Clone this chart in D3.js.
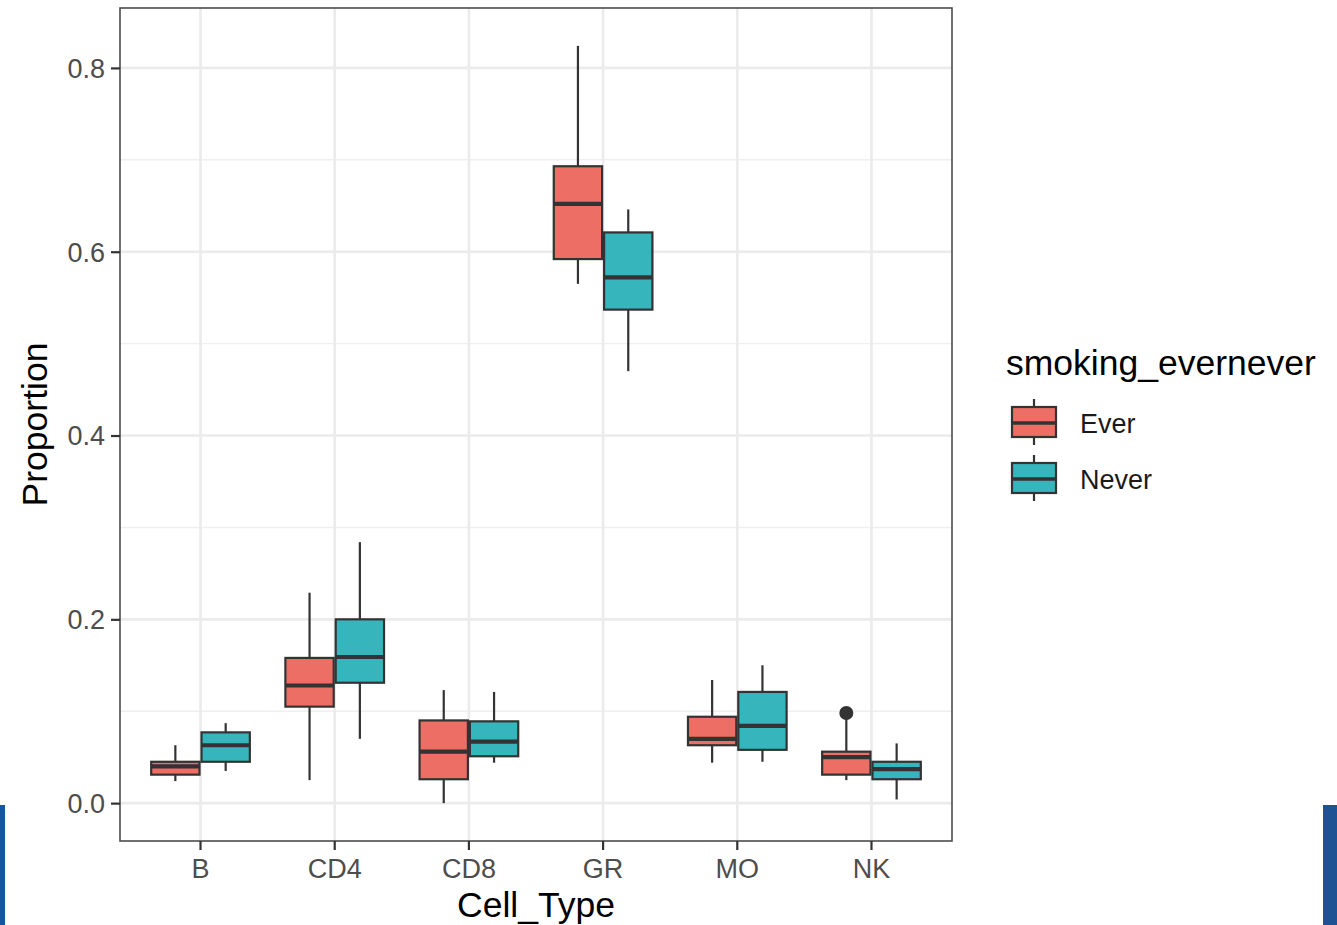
<!DOCTYPE html>
<html>
<head>
<meta charset="utf-8">
<script src="https://cdn.jsdelivr.net/npm/d3@7"></script>
<style>
  html, body { margin: 0; padding: 0; background: #fff; }
  svg { display: block; }
  text { font-family: "Liberation Sans", Arial, Helvetica, sans-serif; }
</style>
</head>
<body>
<svg id="chart" width="1337" height="925"></svg>
<script>
// Cell types on the x axis and the two smoking groups
const cellTypes = ["B", "CD4", "CD8", "GR", "MO", "NK"];
const groups = ["Ever", "Never"];

// Box-plot statistics per group, one value per cell type
const everLower  = [0.024, 0.025, 0.000, 0.565, 0.044, 0.025];
const everQ1     = [0.031, 0.105, 0.026, 0.592, 0.063, 0.031];
const everMedian = [0.040, 0.128, 0.056, 0.652, 0.070, 0.050];
const everQ3     = [0.045, 0.158, 0.090, 0.693, 0.094, 0.056];
const everUpper  = [0.063, 0.229, 0.123, 0.824, 0.134, 0.092];

const neverLower  = [0.035, 0.070, 0.044, 0.470, 0.045, 0.004];
const neverQ1     = [0.045, 0.131, 0.051, 0.537, 0.058, 0.026];
const neverMedian = [0.063, 0.159, 0.067, 0.572, 0.084, 0.037];
const neverQ3     = [0.077, 0.200, 0.089, 0.621, 0.121, 0.045];
const neverUpper  = [0.087, 0.284, 0.121, 0.646, 0.150, 0.065];

// Outlying points: cell type, group, value
const outlierCells  = ["NK"];
const outlierGroups = ["Ever"];
const outlierValues = [0.098];

// Y axis ticks
const yTicks = [0.0, 0.2, 0.4, 0.6, 0.8];
const yMinorTicks = [0.1, 0.3, 0.5, 0.7];

const fillColors = { Ever: "#EC6E64", Never: "#36B5BC" };

const stats = { Ever: [everLower, everQ1, everMedian, everQ3, everUpper],
                Never: [neverLower, neverQ1, neverMedian, neverQ3, neverUpper] };

const boxes = [];
groups.forEach(g => {
  cellTypes.forEach((c, i) => {
    const s = stats[g];
    boxes.push({ cell: c, group: g, lower: s[0][i], q1: s[1][i], median: s[2][i], q3: s[3][i], upper: s[4][i] });
  });
});
const outliers = outlierCells.map((c, i) => ({ cell: c, group: outlierGroups[i], value: outlierValues[i] }));

// Panel geometry
const panel = { left: 120, top: 8, right: 952, bottom: 841 };
const svg = d3.select("#chart");

// y domain padded by 5% of the data range, as ggplot does
const allVals = boxes.flatMap(b => [b.lower, b.upper]).concat(outlierValues);
const [vMin, vMax] = d3.extent(allVals);
const pad = (vMax - vMin) * 0.05;
const y = d3.scaleLinear().domain([vMin - pad, vMax + pad]).range([panel.bottom, panel.top]);

const x = d3.scaleBand().domain(cellTypes).range([panel.left, panel.right])
  .paddingInner(0).paddingOuter(0.1);
const dodgeWidth = x.bandwidth() * 0.75;
const xSub = d3.scaleBand().domain(groups).range([-dodgeWidth / 2, dodgeWidth / 2]);
const cx = (cell) => x(cell) + x.bandwidth() / 2;

// Background grid
const grid = svg.append("g");
grid.selectAll("line.minor").data(yMinorTicks).join("line")
  .attr("x1", panel.left).attr("x2", panel.right)
  .attr("y1", d => y(d)).attr("y2", d => y(d))
  .attr("stroke", "#EFEFEF").attr("stroke-width", 1.4);
grid.selectAll("line.majory").data(yTicks).join("line")
  .attr("x1", panel.left).attr("x2", panel.right)
  .attr("y1", d => y(d)).attr("y2", d => y(d))
  .attr("stroke", "#EBEBEB").attr("stroke-width", 2.6);
grid.selectAll("line.majorx").data(cellTypes).join("line")
  .attr("x1", d => cx(d)).attr("x2", d => cx(d))
  .attr("y1", panel.top).attr("y2", panel.bottom)
  .attr("stroke", "#EBEBEB").attr("stroke-width", 2.6);

// Boxes
const outline = "#333333";
const bg = svg.append("g");
const box = bg.selectAll("g.box").data(boxes).join("g")
  .attr("transform", d => `translate(${cx(d.cell) + xSub(d.group)},0)`);
const bw = xSub.bandwidth();
box.append("line")
  .attr("x1", bw / 2).attr("x2", bw / 2)
  .attr("y1", d => y(d.upper)).attr("y2", d => y(d.q3))
  .attr("stroke", outline).attr("stroke-width", 2.2);
box.append("line")
  .attr("x1", bw / 2).attr("x2", bw / 2)
  .attr("y1", d => y(d.q1)).attr("y2", d => y(d.lower))
  .attr("stroke", outline).attr("stroke-width", 2.2);
box.append("rect")
  .attr("x", 1).attr("width", bw - 2)
  .attr("y", d => y(d.q3)).attr("height", d => y(d.q1) - y(d.q3))
  .attr("fill", d => fillColors[d.group])
  .attr("stroke", outline).attr("stroke-width", 2.2);
box.append("line")
  .attr("x1", 1).attr("x2", bw - 1)
  .attr("y1", d => y(d.median)).attr("y2", d => y(d.median))
  .attr("stroke", outline).attr("stroke-width", 4.2);

bg.selectAll("circle.out").data(outliers).join("circle")
  .attr("cx", d => cx(d.cell) + xSub(d.group) + bw / 2)
  .attr("cy", d => y(d.value))
  .attr("r", 7).attr("fill", outline);

// Panel border
svg.append("rect")
  .attr("x", panel.left).attr("y", panel.top)
  .attr("width", panel.right - panel.left).attr("height", panel.bottom - panel.top)
  .attr("fill", "none").attr("stroke", "#4D4D4D").attr("stroke-width", 1.6);

// Axes
const yAxis = svg.append("g").attr("transform", `translate(${panel.left},0)`)
  .call(d3.axisLeft(y).tickValues(yTicks).tickFormat(d3.format(".1f")).tickSize(9).tickPadding(6));
const xAxis = svg.append("g").attr("transform", `translate(0,${panel.bottom})`)
  .call(d3.axisBottom(x).tickSize(9).tickPadding(6));
[yAxis, xAxis].forEach(a => {
  a.select(".domain").remove();
  a.selectAll(".tick line").attr("stroke", "#333").attr("stroke-width", 2.2);
  a.selectAll(".tick text").attr("fill", "#4D4D4D").style("font-size", "27px")
    .style("font-family", "'Liberation Sans', Arial, sans-serif");
});
yAxis.selectAll(".tick text").attr("dy", "0.35em");
xAxis.selectAll(".tick text").attr("dy", "0.8em");

// Axis titles
svg.append("text").attr("x", (panel.left + panel.right) / 2).attr("y", 917)
  .attr("text-anchor", "middle").style("font-size", "35.5px").attr("fill", "#000")
  .text("Cell_Type");
svg.append("text")
  .attr("transform", `translate(47,${(panel.top + panel.bottom) / 2}) rotate(-90)`)
  .attr("text-anchor", "middle").style("font-size", "35.5px").attr("fill", "#000")
  .text("Proportion");

// Legend
const legend = svg.append("g");
legend.append("text").attr("x", 1006).attr("y", 375)
  .style("font-size", "35.5px").attr("fill", "#000").text("smoking_evernever");
const keyTop = [407, 463];
const key = legend.selectAll("g.key").data(groups).join("g")
  .attr("transform", (d, i) => `translate(1034,${keyTop[i]})`);
key.append("line").attr("x1", 0).attr("x2", 0).attr("y1", -8).attr("y2", 38)
  .attr("stroke", outline).attr("stroke-width", 2.2);
key.append("rect").attr("x", -22).attr("y", 0).attr("width", 44).attr("height", 30)
  .attr("fill", d => fillColors[d]).attr("stroke", outline).attr("stroke-width", 2.2);
key.append("line").attr("x1", -22).attr("x2", 22).attr("y1", 16).attr("y2", 16)
  .attr("stroke", outline).attr("stroke-width", 3.5);
key.append("text").attr("x", 46).attr("y", 26)
  .style("font-size", "27px").attr("fill", "#1A1A1A").text(d => d);

// Blue edge bars at the lower corners
svg.append("rect").attr("x", 0).attr("y", 805).attr("width", 5).attr("height", 120).attr("fill", "#1457A0");
svg.append("rect").attr("x", 1323).attr("y", 805).attr("width", 14).attr("height", 120).attr("fill", "#1F5293");
</script>
</body>
</html>
